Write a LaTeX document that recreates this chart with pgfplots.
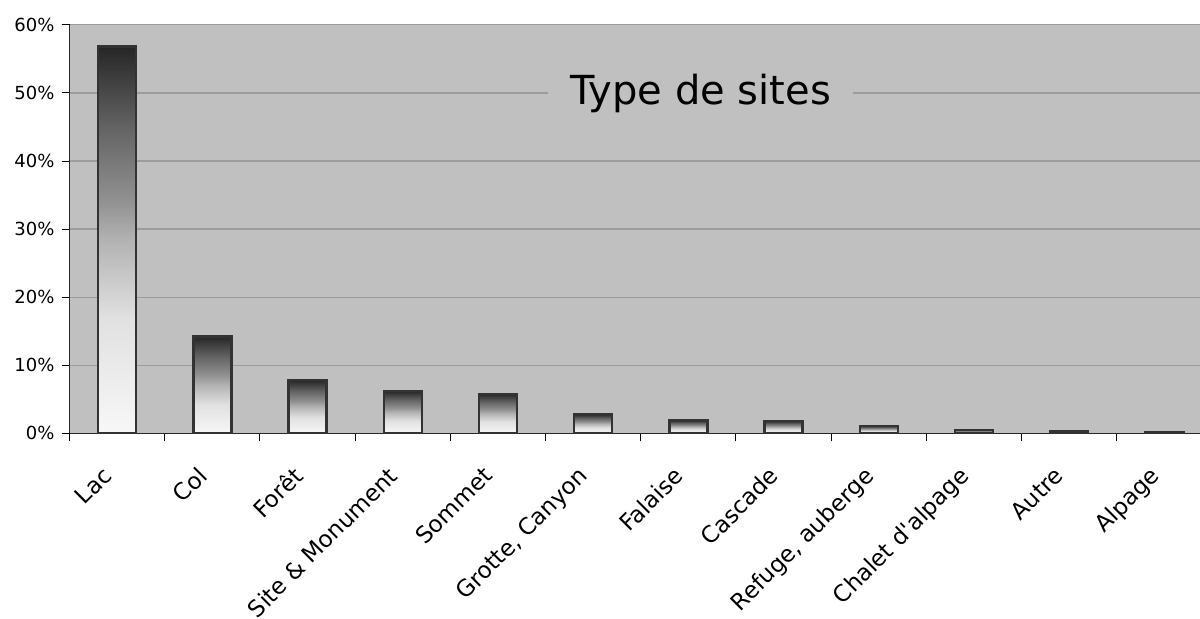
\documentclass[border=0pt]{standalone}
\usepackage{fontspec}
\setmainfont{DejaVu Sans}
\usepackage{pgfplots}
\pgfplotsset{compat=1.18}

\definecolor{plotbg}{HTML}{C0C0C0}
\definecolor{gridc}{HTML}{9C9C9C}
\definecolor{edgec}{HTML}{333333}

% dark at the top, white over the lower third
\pgfdeclareverticalshading{barshade}{100bp}{%
  color(0bp)=(white!97!black); color(25bp)=(white!97!black);
  color(40bp)=(black!12); color(50bp)=(black!30); color(55bp)=(black!43);
  color(65bp)=(black!62); color(75bp)=(black!85); color(100bp)=(black!85)}

\pgfplotsset{sitebar/.style={ybar, bar width=19pt, bar shift=0pt,
  draw=edgec, line width=1.2pt, shade, shading=barshade}}

\begin{document}
\begin{tikzpicture}
\useasboundingbox (0,0) rectangle (600pt,309.5pt);
\begin{axis}[
  at={(34.75pt,92.85pt)}, anchor=south west,
  scale only axis,
  width=571.2pt, height=204.2pt,
  xmin=-0.5, xmax=11.5,
  ymin=0, ymax=60,
  axis lines*=left,
  axis line style={black!85, line width=0.6pt},
  axis background/.style={fill=plotbg},
  ymajorgrids,
  grid style={gridc, line width=0.6pt},
  ytick={0,10,...,60},
  yticklabel={\pgfmathprintnumber{\tick}\%},
  /pgf/number format/assume math mode=true,
  yticklabel style={font=\fontsize{9}{11}\selectfont, black},
  xtick={-0.5,0.5,...,11.5},
  xticklabels=\empty,
  extra x ticks={0,1,...,11},
  extra x tick labels={Lac,Col,Forêt,Site \& Monument,Sommet,{Grotte, Canyon},Falaise,Cascade,{Refuge, auberge},Chalet d\textquotesingle alpage,Autre,Alpage},
  extra x tick style={
    major tick length=0pt,
    xticklabel style={xshift=-8pt, yshift=-11pt, rotate=45, anchor=north east,
      font=\fontsize{11.5}{13}\selectfont, black}},
  tick align=outside,
  major tick length=4pt,
  tick style={black, line width=0.5pt},
]
% one plot per bar, so that each bar gets its own gradient
\addplot[sitebar] coordinates {(0,56.8)};
\addplot[sitebar] coordinates {(1,14.2)};
\addplot[sitebar] coordinates {(2,7.8)};
\addplot[sitebar] coordinates {(3,6.2)};
\addplot[sitebar] coordinates {(4,5.8)};
\addplot[sitebar] coordinates {(5,2.8)};
\addplot[sitebar] coordinates {(6,1.9)};
\addplot[sitebar] coordinates {(7,1.8)};
\addplot[sitebar] coordinates {(8,1.1)};
\addplot[sitebar] coordinates {(9,0.5)};
\addplot[sitebar] coordinates {(10,0.3)};
\addplot[sitebar] coordinates {(11,0.2)};
\node[fill=plotbg, inner xsep=11pt, anchor=base,
  font=\fontsize{20}{24}\selectfont] at (axis cs:6.13,48.24) {Type de sites};
\end{axis}
\end{tikzpicture}
\end{document}
